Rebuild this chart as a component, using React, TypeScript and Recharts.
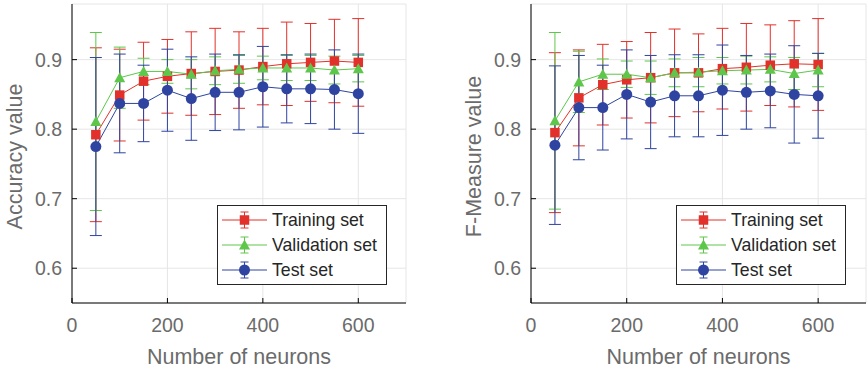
import React from 'react';
import { ComposedChart, Line, XAxis, YAxis, CartesianGrid, ErrorBar, Legend, Label } from 'recharts';

const neurons = [50, 100, 150, 200, 250, 300, 350, 400, 450, 500, 550, 600];

// Accuracy panel
const accTrain = [0.792, 0.849, 0.869, 0.876, 0.880, 0.883, 0.885, 0.890, 0.894, 0.896, 0.898, 0.896];
const accTrainErr = [0.125, 0.066, 0.056, 0.053, 0.060, 0.062, 0.055, 0.055, 0.060, 0.056, 0.060, 0.063];
const accVal = [0.811, 0.874, 0.883, 0.883, 0.879, 0.884, 0.886, 0.888, 0.888, 0.888, 0.885, 0.887];
const accValErr = [0.128, 0.044, 0.019, 0.017, 0.021, 0.020, 0.020, 0.017, 0.018, 0.018, 0.020, 0.019];
const accTest = [0.775, 0.837, 0.837, 0.856, 0.844, 0.853, 0.853, 0.861, 0.858, 0.858, 0.857, 0.851];
const accTestErr = [0.128, 0.071, 0.055, 0.059, 0.060, 0.055, 0.054, 0.058, 0.049, 0.050, 0.057, 0.057];

// F-Measure panel
const fmTrain = [0.795, 0.845, 0.864, 0.871, 0.874, 0.881, 0.881, 0.887, 0.889, 0.892, 0.894, 0.893];
const fmTrainErr = [0.115, 0.069, 0.058, 0.055, 0.065, 0.063, 0.056, 0.058, 0.063, 0.058, 0.062, 0.066];
const fmVal = [0.812, 0.868, 0.879, 0.879, 0.874, 0.881, 0.882, 0.884, 0.885, 0.886, 0.880, 0.885];
const fmValErr = [0.127, 0.044, 0.022, 0.019, 0.024, 0.020, 0.021, 0.019, 0.020, 0.018, 0.023, 0.024];
const fmTest = [0.777, 0.831, 0.831, 0.850, 0.839, 0.848, 0.848, 0.856, 0.853, 0.855, 0.850, 0.848];
const fmTestErr = [0.114, 0.075, 0.061, 0.064, 0.067, 0.059, 0.059, 0.065, 0.053, 0.053, 0.070, 0.061];

const xTicks = [0, 200, 400, 600];
const yTicks = [0.6, 0.7, 0.8, 0.9];

const RED = '#e2312a';
const GREEN = '#5ec74b';
const BLUE = '#2e44a0';
const FONT = '"Liberation Sans", Arial, Helvetica, sans-serif';
const TICK_COLOR = '#6b6b6b';

type Shape = 'square' | 'triangle' | 'circle';
const seriesDefs: { key: string; name: string; color: string; shape: Shape }[] = [
  { key: 'train', name: 'Training set', color: RED, shape: 'square' },
  { key: 'val', name: 'Validation set', color: GREEN, shape: 'triangle' },
  { key: 'test', name: 'Test set', color: BLUE, shape: 'circle' },
];

const buildRows = (tr: number[], trE: number[], va: number[], vaE: number[], te: number[], teE: number[]) =>
  neurons.map((n, i) => ({
    n,
    train: tr[i], trainErr: trE[i],
    val: va[i], valErr: vaE[i],
    test: te[i], testErr: teE[i],
  }));

const accRows = buildRows(accTrain, accTrainErr, accVal, accValErr, accTest, accTestErr);
const fmRows = buildRows(fmTrain, fmTrainErr, fmVal, fmValErr, fmTest, fmTestErr);

const Marker = ({ shape, cx, cy, color }: { shape: Shape; cx?: number; cy?: number; color: string }) => {
  if (cx == null || cy == null) return null;
  if (shape === 'square') return <rect x={cx - 4.75} y={cy - 4.75} width={9.5} height={9.5} fill={color} />;
  if (shape === 'triangle')
    return <polygon points={`${cx},${cy - 5.5} ${cx - 5.5},${cy + 4.5} ${cx + 5.5},${cy + 4.5}`} fill={color} />;
  return <circle cx={cx} cy={cy} r={5.5} fill={color} />;
};

const LegendBox = () => (
  <div style={{ border: '1px solid #262626', background: '#fff', width: 168, padding: '1.5px 0', fontFamily: FONT, fontSize: 17.7, color: '#262626' }}>
    {seriesDefs.map((s) => (
      <div key={s.key} style={{ display: 'flex', alignItems: 'center', height: 25 }}>
        <svg width={50} height={24} style={{ marginLeft: 4, flex: 'none' }}>
          <line x1={0} y1={12} x2={45} y2={12} stroke={s.color} />
          <line x1={22.5} y1={4} x2={22.5} y2={20} stroke={s.color} />
          <line x1={18.5} y1={4} x2={26.5} y2={4} stroke={s.color} />
          <line x1={18.5} y1={20} x2={26.5} y2={20} stroke={s.color} />
          <Marker shape={s.shape} cx={22.5} cy={12} color={s.color} />
        </svg>
        <span style={{ whiteSpace: 'nowrap' }}>{s.name}</span>
      </div>
    ))}
  </div>
);

type PanelProps = {
  rows: ReturnType<typeof buildRows>;
  yLabel: string;
  yAxisWidth: number;
  rightMargin: number;
  labelX: number;
  legendLeft: number;
};

const Panel = ({ rows, yLabel, yAxisWidth, rightMargin, labelX, legendLeft }: PanelProps) => (
  <ComposedChart width={434} height={371} data={rows} margin={{ top: 4, right: rightMargin, bottom: 0, left: 0 }}>
    <CartesianGrid stroke="#e6e6e6" />
    <XAxis
      dataKey="n"
      type="number"
      domain={[0, 700]}
      ticks={xTicks}
      height={68}
      tickSize={-5}
      tickMargin={20}
      axisLine={{ stroke: '#000' }}
      tickLine={{ stroke: '#000' }}
      tick={{ fill: TICK_COLOR, fontSize: 19.5, fontFamily: FONT }}
      label={
        <Label
          content={({ viewBox }: any) => (
            <text x={viewBox.x + viewBox.width / 2} y={viewBox.y + 61} textAnchor="middle" fill={TICK_COLOR} fontSize={21.5} fontFamily={FONT}>
              Number of neurons
            </text>
          )}
        />
      }
    />
    <XAxis xAxisId="top" orientation="top" type="number" domain={[0, 700]} ticks={xTicks} height={0} tick={false} tickSize={-5} axisLine={{ stroke: '#000' }} tickLine={{ stroke: '#000' }} />
    <YAxis
      type="number"
      domain={[0.55, 0.98]}
      ticks={yTicks}
      width={yAxisWidth}
      tickSize={-5}
      tickMargin={15}
      axisLine={{ stroke: '#000' }}
      tickLine={{ stroke: '#000' }}
      tick={{ fill: TICK_COLOR, fontSize: 19.5, fontFamily: FONT }}
      label={
        <Label
          content={({ viewBox }: any) => {
            const x = viewBox.x + labelX;
            const y = viewBox.y + viewBox.height / 2 + 3;
            return (
              <text x={x} y={y} transform={`rotate(-90 ${x} ${y})`} textAnchor="middle" fill={TICK_COLOR} fontSize={21.5} fontFamily={FONT}>
                {yLabel}
              </text>
            );
          }}
        />
      }
    />
    <YAxis yAxisId="right" orientation="right" type="number" domain={[0.55, 0.98]} ticks={yTicks} width={0} tick={false} tickSize={-5} axisLine={{ stroke: '#000' }} tickLine={{ stroke: '#000' }} />
    {seriesDefs.map((s) => (
      <Line
        key={s.key}
        type="linear"
        dataKey={s.key}
        stroke={s.color}
        strokeWidth={1}
        isAnimationActive={false}
        activeDot={false}
        dot={(p: any) => <Marker key={`${s.key}-${p.index}`} shape={s.shape} cx={p.cx} cy={p.cy} color={s.color} />}
      >
        <ErrorBar dataKey={`${s.key}Err`} width={6} stroke={s.color} strokeWidth={1} isAnimationActive={false} />
      </Line>
    ))}
    <Legend
      layout="vertical"
      align="center"
      verticalAlign="middle"
      content={() => <LegendBox />}
      wrapperStyle={{ left: legendLeft, top: 205, width: 170 }}
    />
  </ComposedChart>
);

export default function App() {
  return (
    <div style={{ position: 'absolute', left: 0, top: 0, width: 868, height: 371, background: '#fff' }}>
      <div style={{ position: 'absolute', left: 0, top: 0 }}>
        <Panel rows={accRows} yLabel="Accuracy value" yAxisWidth={72} rightMargin={28} labelX={22} legendLeft={217} />
      </div>
      <div style={{ position: 'absolute', left: 434, top: 0 }}>
        <Panel rows={fmRows} yLabel="F-Measure value" yAxisWidth={97} rightMargin={2} labelX={47} legendLeft={242} />
      </div>
    </div>
  );
}
